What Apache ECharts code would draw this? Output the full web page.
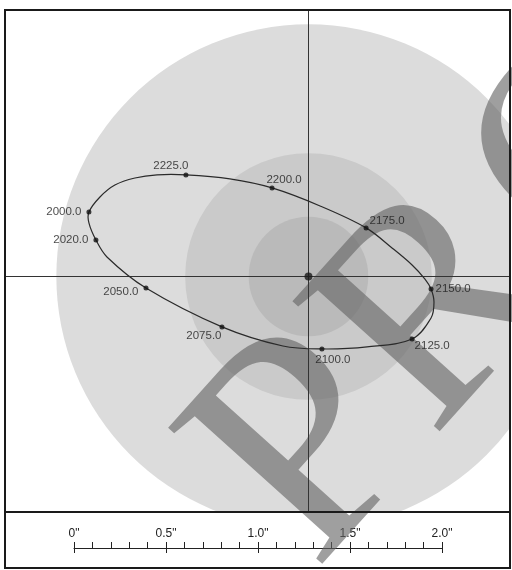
<!DOCTYPE html>
<html>
<head>
<meta charset="utf-8">
<script src="https://cdn.jsdelivr.net/npm/echarts@6/dist/echarts.min.js"></script>
<style>
html,body{margin:0;padding:0;background:#fff;}
#chart{width:512px;height:570px;}
</style>
</head>
<body>
<div id="chart"></div>
<script>
// ---- data (arcseconds, primary star at origin, +x right, +y up) ----
const epochs  = [2000, 2020, 2050, 2075, 2100, 2125, 2150, 2175, 2200, 2225];
const orbitX  = [-1.193, -1.155, -0.883, -0.470, 0.073, 0.563, 0.666, 0.313, -0.198, -0.666];
const orbitY  = [ 0.350,  0.198, -0.063, -0.274, -0.394, -0.340, -0.068, 0.264, 0.481, 0.552];
// orbit path (includes the epoch positions)
const pathX = [-1.193, -1.193, -1.155, -1.095, -0.883, -0.470, -0.139, 0.073, 0.318, 0.563, 0.666, 0.682, 0.666, 0.633, 0.563, 0.454, 0.313, 0.063, -0.198, -0.427, -0.666, -0.823, -0.943, -1.052, -1.133];
const pathY = [ 0.350,  0.291,  0.198,  0.106, -0.063, -0.274, -0.378, -0.394, -0.383, -0.340, -0.226, -0.139, -0.068, -0.014, 0.0625, 0.155, 0.264, 0.383, 0.481, 0.530, 0.552, 0.552, 0.535, 0.497, 0.432];
const primary = [0, 0];
const ringRadii = [1.37, 0.67, 0.325];
const scaleTicks = ['0"', '0.5"', '1.0"', '1.5"', '2.0"'];
const scaleMax = 2.0;
const watermark = ['P', 'R', 'O'];

// ---- view window (arcsec) ----
const xMin = -1.649, xMax = 1.095, yMin = -1.280, yMax = 1.448;

// ---- styles ----
const ringColors = ['#dcdcdc', '#cacaca', '#bababa'];
const markCenters = [[312, 452], [441, 312], [600, 148]];
const markSizes = [314, 300, 300];
const markRotation = 48 * Math.PI / 180;
const labelStyles = [
  {position:'left', distance:5, offset:[0,0]},
  {position:'left', distance:5, offset:[0,0]},
  {position:'left', distance:5, offset:[0,4]},
  {position:'left', distance:5, offset:[7,9]},
  {position:'bottom', distance:3, offset:[11,-1]},
  {position:'right', distance:3, offset:[-3,7]},
  {position:'right', distance:3, offset:[-1,0]},
  {position:'right', distance:3, offset:[-2,-7]},
  {position:'top', distance:3, offset:[12,3]},
  {position:'top', distance:3, offset:[-15,2]}
];

const chart = echarts.init(document.getElementById('chart'), null, {renderer:'canvas'});

const markGraphics = watermark.map(function(ch, i){
  return {
    type:'text', z: 1, silent:true,
    x: markCenters[i][0], y: markCenters[i][1], rotation: markRotation,
    style:{text: ch, font: markSizes[i] + 'px "Liberation Serif", "Times New Roman", serif',
      fill:'rgba(100,100,100,0.62)', textAlign:'center', textVerticalAlign:'middle', verticalAlign:'middle'}
  };
});

const option = {
  animation: false,
  backgroundColor: '#ffffff',
  grid: [
    {left: 5, top: 10, width: 505, height: 502},
    {left: 74, top: 530, width: 368, height: 18}
  ],
  xAxis: [
    {type:'value', gridIndex:0, min:xMin, max:xMax, show:false},
    {type:'value', gridIndex:1, min:0, max:scaleMax, interval:0.5,
      axisLine:{show:true, onZero:false, lineStyle:{color:'#222', width:1}},
      axisTick:{show:true, inside:true, length:6, lineStyle:{color:'#222', width:1}},
      minorTick:{show:true, splitNumber:5, length:6, lineStyle:{color:'#222', width:1}},
      splitLine:{show:false},
      axisLabel:{show:true, inside:true, margin:8, color:'#222', fontSize:12,
        fontFamily:'"Liberation Sans", Arial, sans-serif',
        formatter: function(v){ const i = Math.round(v/0.5); return scaleTicks[i] || ''; }}
    },
    {type:'value', gridIndex:1, min:0, max:scaleMax, interval:0.5, position:'bottom',
      axisLine:{show:false},
      axisTick:{show:true, inside:false, length:5, lineStyle:{color:'#222', width:1}},
      axisLabel:{show:false}, splitLine:{show:false}
    }
  ],
  yAxis: [
    {type:'value', gridIndex:0, min:yMin, max:yMax, show:false},
    {type:'value', gridIndex:1, min:0, max:1, show:false}
  ],
  graphic: markGraphics.concat([
    {
      type:'rect', z: 100, silent:true,
      shape:{x:5, y:10, width:505, height:558},
      style:{fill:'none', stroke:'#1a1a1a', lineWidth:2}
    },
    {
      type:'line', z: 100, silent:true,
      shape:{x1:5, y1:512, x2:510, y2:512},
      style:{stroke:'#1a1a1a', lineWidth:2}
    }
  ]),
  series: [
    {
      type:'custom', xAxisIndex:0, yAxisIndex:0, z:0, clip:true, silent:true,
      data: ringRadii.map(function(r){ return [primary[0], primary[1], r]; }),
      renderItem: function(params, api){
        const c = api.coord([api.value(0), api.value(1)]);
        const r = api.size([api.value(2), 0])[0];
        return {type:'circle', shape:{cx:c[0], cy:c[1], r:r},
          style:{fill: ringColors[params.dataIndex], stroke:'none'}};
      }
    },
    {
      type:'custom', xAxisIndex:0, yAxisIndex:0, z:5, silent:true,
      data: [[primary[0], primary[1]]],
      renderItem: function(params, api){
        const pts = pathX.map(function(x, i){ return api.coord([x, pathY[i]]); });
        return {type:'polygon', shape:{points: pts, smooth: 0.35},
          style:{fill:'none', stroke:'#2a2a2a', lineWidth:1.2}};
      },
      markLine: {
        silent:true, symbol:'none', label:{show:false},
        lineStyle:{color:'#333', width:1, type:'solid'},
        data: [{xAxis: primary[0]}, {yAxis: primary[1]}]
      }
    },
    {
      type:'scatter', xAxisIndex:0, yAxisIndex:0, z:6, silent:true,
      symbol:'circle', symbolSize:5,
      itemStyle:{color:'#111'},
      data: epochs.map(function(e, i){
        return {value:[orbitX[i], orbitY[i]],
          label:Object.assign({show:true, formatter: e.toFixed(1), color:'#1a1a1a',
            fontSize:11.5, fontFamily:'"Liberation Sans", Arial, sans-serif'}, labelStyles[i])};
      })
    },
    {
      type:'scatter', xAxisIndex:0, yAxisIndex:0, z:6, silent:true,
      symbol:'circle', symbolSize:8, itemStyle:{color:'#1a1a1a'},
      data: [primary]
    }
  ]
};
chart.setOption(option);
</script>
</body>
</html>
